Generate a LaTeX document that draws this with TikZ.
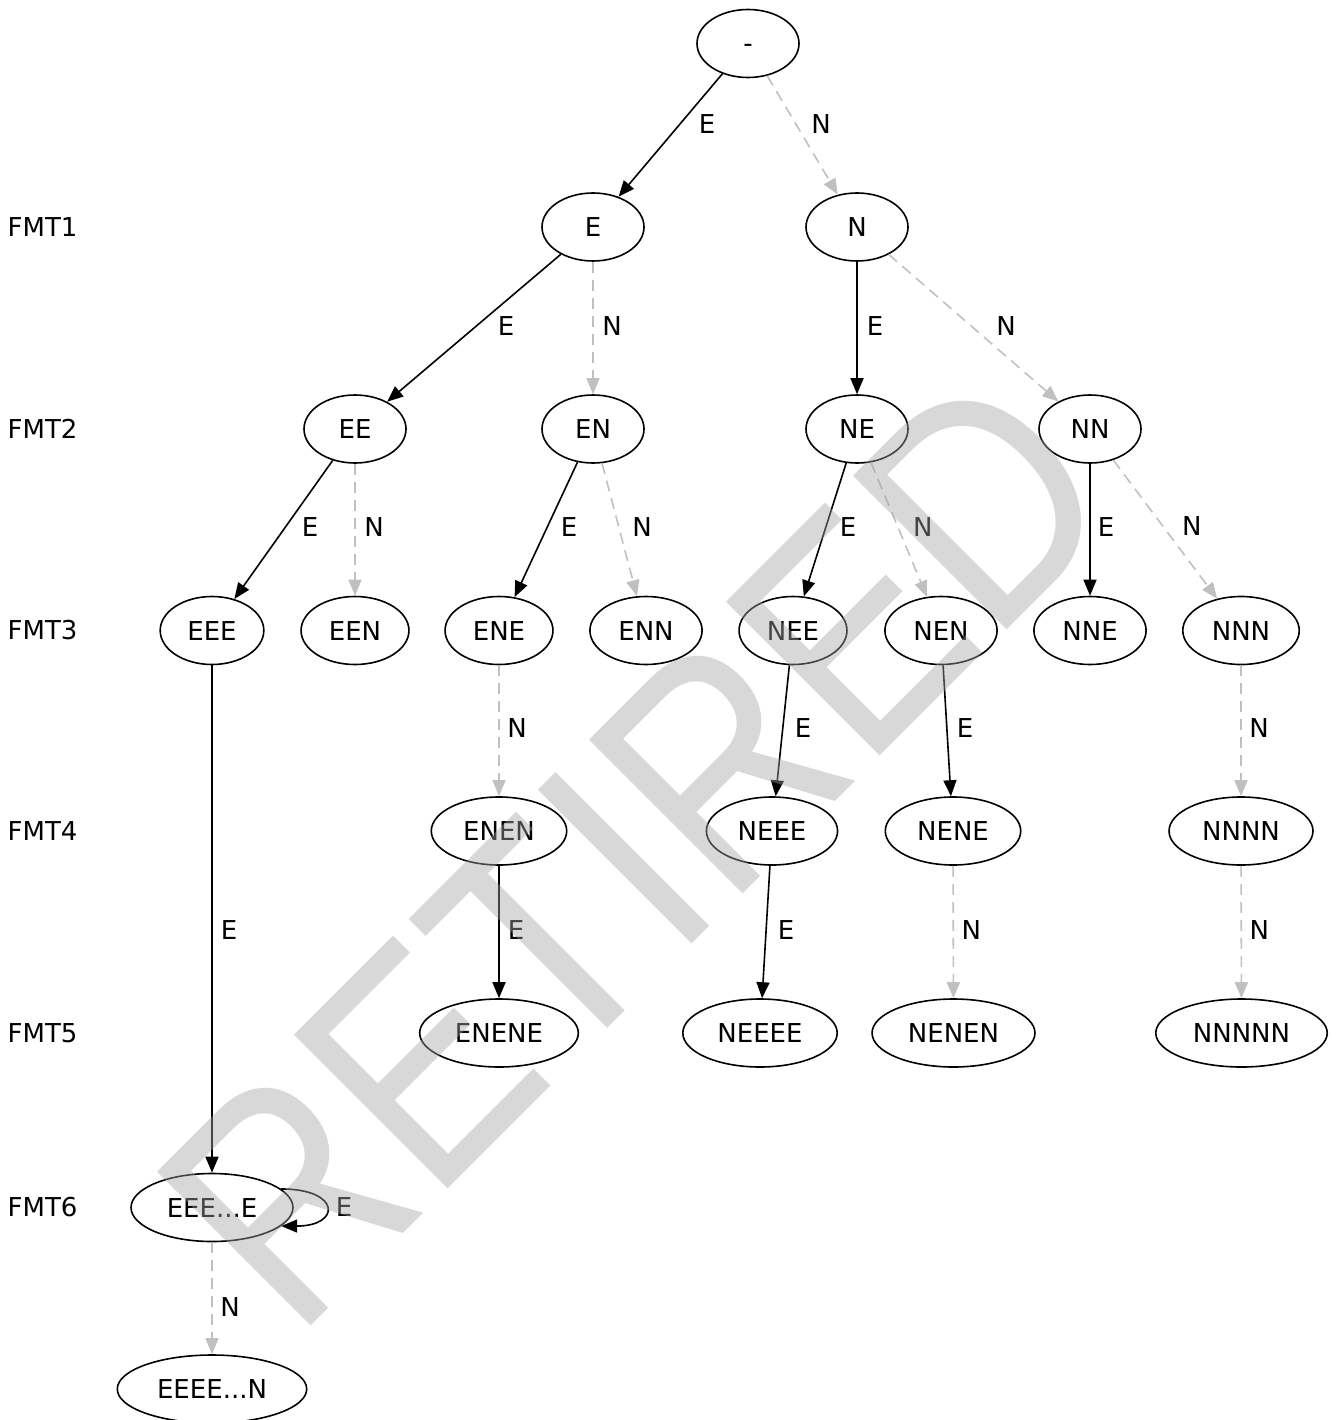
\documentclass[tikz,border=0pt]{standalone}
\usepackage{fontspec}
\setmainfont{DejaVu Sans}
\newfontfamily\stampfont{Liberation Sans}
\usetikzlibrary{arrows.meta,shapes.geometric}
\definecolor{edgegray}{RGB}{192,192,192}
\definecolor{stampgray}{RGB}{163,163,163}

\begin{document}
\begin{tikzpicture}[
  x=1pt, y=-1pt,
  every node/.style={font=\fontsize{26}{31}\selectfont},
  state/.style={draw, ellipse, line width=1.6pt, minimum width=102pt, minimum height=68pt, inner xsep=12pt, inner ysep=4pt, text height=19pt, text depth=0pt},
  rank/.style={anchor=west, inner sep=0pt},
  lbl/.style={midway, inner sep=0pt},
  eedge/.style={-{Triangle[length=16pt,width=13pt]}, line width=1.6pt},
  nedge/.style={-{Triangle[length=16pt,width=13pt]}, line width=1.6pt, draw=edgegray, dash pattern=on 11pt off 7pt},
  stamp/.style={rotate=45, inner sep=0pt, text=stampgray, text opacity=0.42, font=\stampfont\fontsize{316}{316}\selectfont}
]
\useasboundingbox (0,0) rectangle (1340,1420);
\node[rank] (fmt1) at (7.5,227) {FMT1};
\node[rank] (fmt2) at (7.5,429) {FMT2};
\node[rank] (fmt3) at (7.5,630.5) {FMT3};
\node[rank] (fmt4) at (7.5,831) {FMT4};
\node[rank] (fmt5) at (7.5,1033) {FMT5};
\node[rank] (fmt6) at (7.5,1207.5) {FMT6};
\node[state] (root) at (748,43.5) {-};
\node[state] (e) at (593,227) {E};
\node[state] (n) at (857,227) {N};
\node[state] (ee) at (355,429) {EE};
\node[state] (en) at (593,429) {EN};
\node[state] (ne) at (857,429) {NE};
\node[state] (nn) at (1090,429) {NN};
\node[state] (eee) at (212,630.5) {EEE};
\node[state] (een) at (355,630.5) {EEN};
\node[state] (ene) at (499,630.5) {ENE};
\node[state] (enn) at (646,630.5) {ENN};
\node[state] (nee) at (793,630.5) {NEE};
\node[state] (nen) at (941,630.5) {NEN};
\node[state] (nne) at (1090,630.5) {NNE};
\node[state] (nnn) at (1241,630.5) {NNN};
\node[state] (enen) at (499,831) {ENEN};
\node[state] (neee) at (772,831) {NEEE};
\node[state] (nene) at (953,831) {NENE};
\node[state] (nnnn) at (1241,831) {NNNN};
\node[state] (enene) at (499,1033) {ENENE};
\node[state] (neeee) at (760,1033) {NEEEE};
\node[state] (nenen) at (953.5,1033) {NENEN};
\node[state] (nnnnn) at (1241.5,1033) {NNNNN};
\node[state] (eeeloop) at (212,1207.5) {EEE...E};
\node[state] (eeeen) at (212,1389) {EEEE...N};
\draw[eedge] (root) -- node[lbl, shift={(36.5,-11)}] {E} (e);
\draw[nedge] (root) -- node[lbl, shift={(18.5,-11)}] {N} (n);
\draw[eedge] (e) -- node[lbl, shift={(32,-2)}] {E} (ee);
\draw[nedge] (e) -- node[lbl, shift={(19,-2)}] {N} (en);
\draw[eedge] (n) -- node[lbl, shift={(18,-2)}] {E} (ne);
\draw[nedge] (n) -- node[lbl, shift={(32.5,-2)}] {N} (nn);
\draw[eedge] (ee) -- node[lbl, shift={(26.5,-3)}] {E} (eee);
\draw[nedge] (ee) -- node[lbl, shift={(19,-3)}] {N} (een);
\draw[eedge] (en) -- node[lbl, shift={(23,-3)}] {E} (ene);
\draw[nedge] (en) -- node[lbl, shift={(22.5,-3)}] {N} (enn);
\draw[eedge] (ne) -- node[lbl, shift={(23,-3)}] {E} (nee);
\draw[nedge] (ne) -- node[lbl, shift={(24,-3)}] {N} (nen);
\draw[eedge] (nn) -- node[lbl, shift={(16,-3)}] {E} (nne);
\draw[nedge] (nn) -- node[lbl, shift={(26.5,-3)}] {N} (nnn);
\draw[eedge] (eee) -- node[lbl, shift={(17,11)}] {E} (eeeloop);
\draw[nedge] (ene) -- node[lbl, shift={(18,-3)}] {N} (enen);
\draw[eedge] (nee) -- node[lbl, shift={(20.5,-3)}] {E} (neee);
\draw[eedge] (nen) -- node[lbl, shift={(18,-3)}] {E} (nene);
\draw[nedge] (nnn) -- node[lbl, shift={(18,-3)}] {N} (nnnn);
\draw[eedge] (enen) -- node[lbl, shift={(17,-2)}] {E} (enene);
\draw[eedge] (neee) -- node[lbl, shift={(20,-2)}] {E} (neeee);
\draw[nedge] (nene) -- node[lbl, shift={(18,-2)}] {N} (nenen);
\draw[nedge] (nnnn) -- node[lbl, shift={(18,-2)}] {N} (nnnnn);
\draw[eedge] (eeeloop.15) .. controls +(60,0) and +(60,0) .. node[lbl, shift={(18,0)}] {E} (eeeloop.345);
\draw[nedge] (eeeloop) -- node[lbl, shift={(18,9)}] {N} (eeeen);
\node[stamp] (retired) at (635,848) {\scalebox{0.85}[1]{RETIRED}};
\end{tikzpicture}
\end{document}
